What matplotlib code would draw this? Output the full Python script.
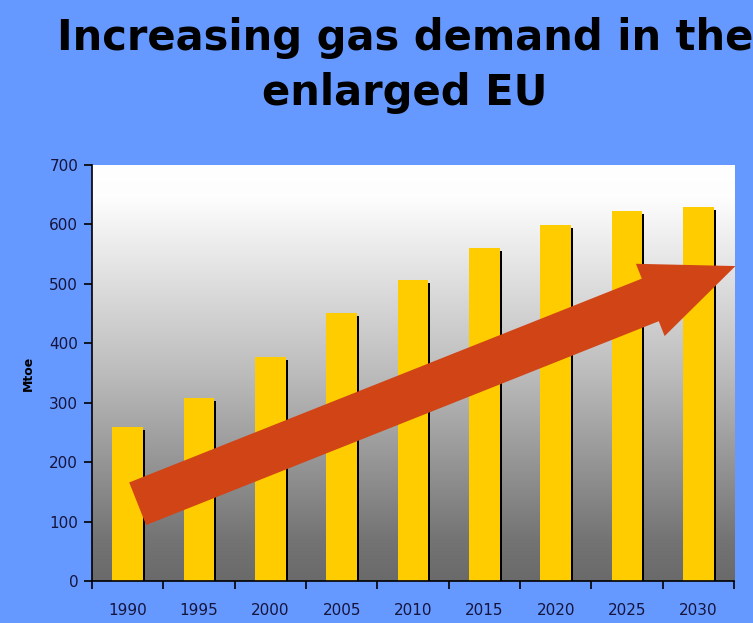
import numpy as np
import matplotlib
matplotlib.use("Agg")
import matplotlib.pyplot as plt
from matplotlib import transforms

# gas demand, Mtoe
years = ["1990", "1995", "2000", "2005", "2010", "2015", "2020", "2025", "2030"]
demand = [260, 308, 377, 451, 507, 561, 599, 623, 630]

# trend arrow end points (category index, Mtoe)
arrow_start = (0.14, 130)
arrow_end = (8.52, 530)

y_ticks = [0, 100, 200, 300, 400, 500, 600, 700]

fig = plt.figure(figsize=(7.53, 6.23), dpi=100)
fig.patch.set_facecolor("#6699ff")

ax = fig.add_axes([0.1222, 0.0674, 0.8526, 0.6677])
ax.set_xlim(-0.5, len(years) - 0.5)
ax.set_ylim(0, 700)

# white-to-grey backdrop
grad = np.linspace(0, 1, 256).reshape(-1, 1)
cmap = matplotlib.colors.LinearSegmentedColormap.from_list(
    "bg", [(0, "#ffffff"), (0.08, "#fdfdfd"), (0.5, "#bcbcbc"), (0.9, "#747474"), (1, "#6a6a6a")],
    N=256)
ax.imshow(grad, cmap=cmap, aspect="auto", extent=[0, 1, 0, 1],
          transform=ax.transAxes, zorder=0, interpolation="bicubic")

x = np.arange(len(years))
shadow = transforms.offset_copy(ax.transData, fig=fig, x=2, y=-3, units="dots")
ax.bar(x, demand, width=0.43, color="black", transform=shadow, zorder=1)
ax.bar(x, demand, width=0.43, color="#ffcc00", zorder=2)

ax.annotate("", xy=arrow_end, xytext=arrow_start,
            arrowprops=dict(arrowstyle="simple,head_length=66,head_width=56,tail_width=33",
                            mutation_scale=1, shrinkA=0, shrinkB=0,
                            color="#d04416", lw=0),
            zorder=3, annotation_clip=False)

for side in ["top", "right"]:
    ax.spines[side].set_visible(False)
ax.spines["left"].set_linewidth(1.2)
ax.spines["bottom"].set_linewidth(1.2)

ax.set_yticks(y_ticks)
ax.tick_params(axis="y", length=6, width=1.2, pad=4, labelsize=11, labelcolor="#14143c")
ax.set_xticks(x)
ax.set_xticklabels(years)
ax.set_xticks(np.arange(-0.5, len(years)), minor=True)
ax.tick_params(axis="x", which="major", length=0, pad=16, labelsize=11, labelcolor="#14143c")
ax.tick_params(axis="x", which="minor", length=6, width=1.2)

ax.set_ylabel("Mtoe", fontsize=9, fontweight="bold", labelpad=10)

fig.text(0.538, 0.9197, "Increasing gas demand in the", ha="center", va="baseline",
         fontsize=30, fontweight="bold")
fig.text(0.538, 0.8315, "enlarged EU", ha="center", va="baseline",
         fontsize=30, fontweight="bold")

fig.savefig("out.png", dpi=100, facecolor=fig.get_facecolor())
